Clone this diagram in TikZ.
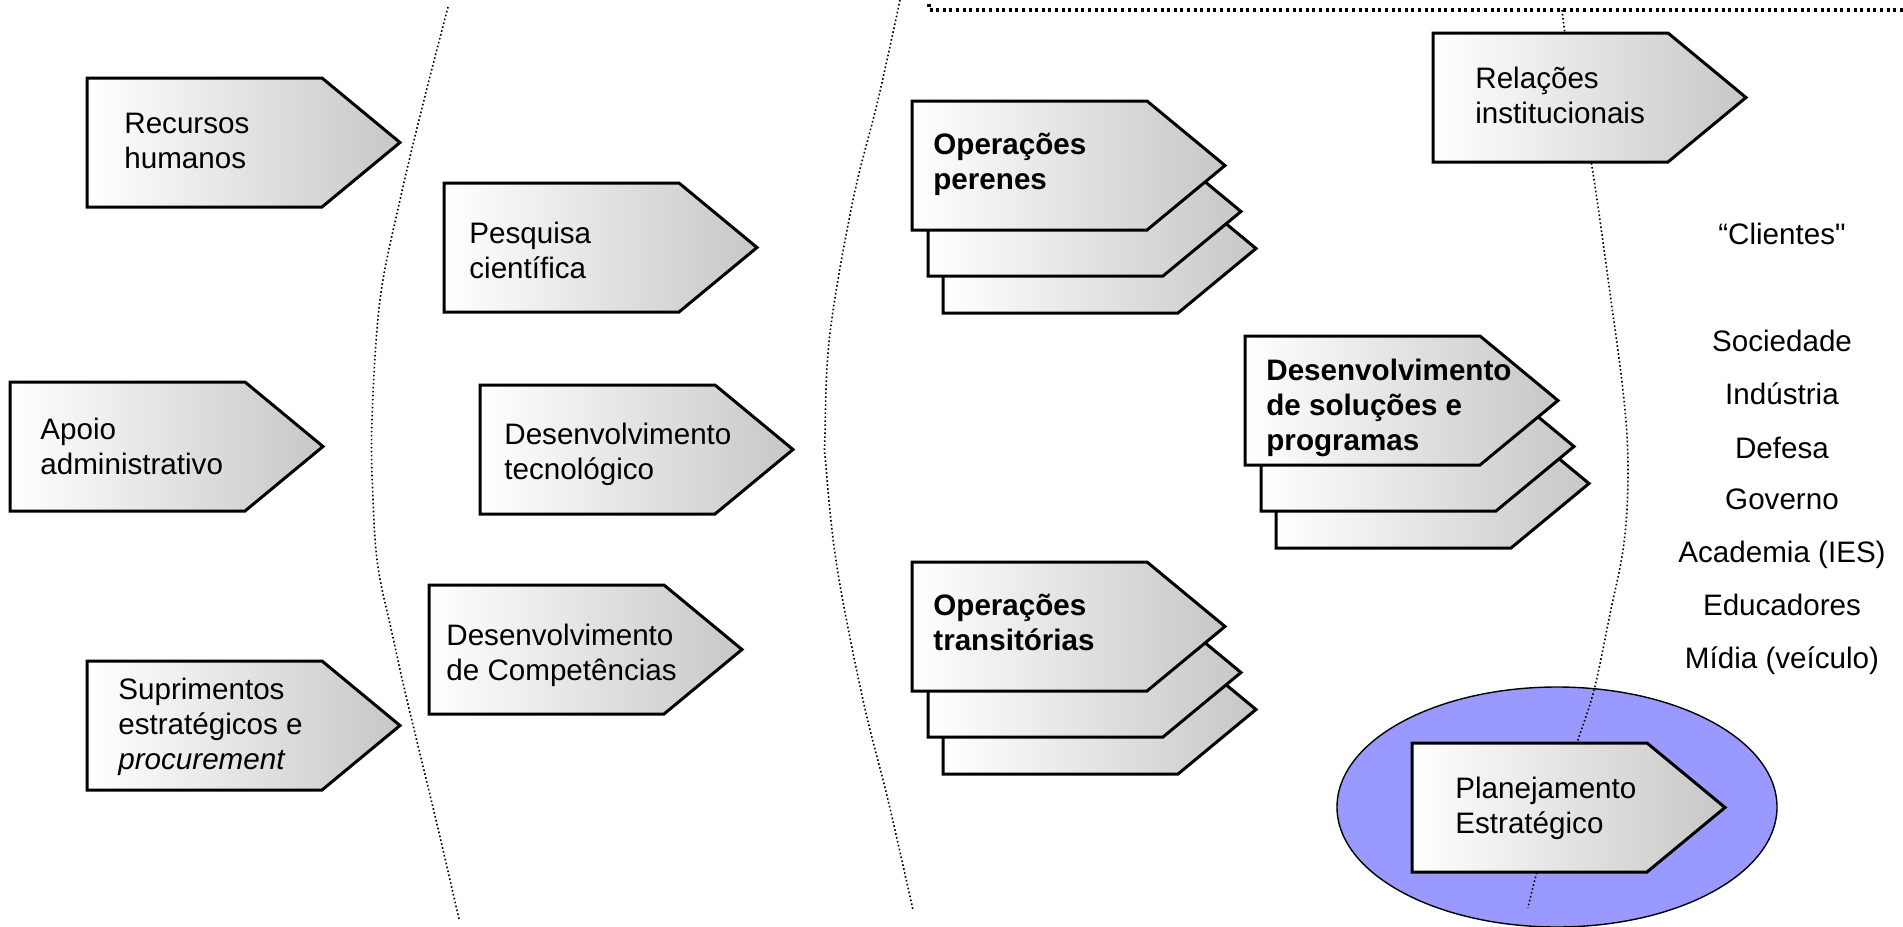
\documentclass[tikz,border=0pt]{standalone}
\usepackage{fontspec}
\setmainfont{Liberation Sans}
% same face without TeX ligature mapping, for a straight double quote
\newfontfamily\rawsans{Liberation Sans}
% strut that fixes the height of the first text line in a box
\newcommand\firstline{\rule{0pt}{16pt}}
\begin{document}
\begin{tikzpicture}[x=0.5pt, y=-0.5pt,
  chevshape/.style={draw=black, line width=1.5pt, line join=miter,
                    left color=white, right color=black!22},
  boxtext/.style={anchor=north west, inner sep=0pt, align=left,
                  font=\fontsize{14.8}{17.4}\selectfont},
  boldtext/.style={boxtext, font=\fontsize{14.8}{17.4}\selectfont\bfseries},
  client/.style={anchor=base, inner sep=0pt, font=\fontsize{14.8}{17.4}\selectfont},
  sepline/.style={line width=0.8pt, dash pattern=on 0.8pt off 1.2pt},
  topline/.style={line width=1.7pt, dash pattern=on 1.5pt off 1.8pt},
  pics/chevron/.style={code={
    \path[chevshape] (0,0) -- (235,0) -- (313,64.5) -- (235,129) -- (0,129) -- cycle;}},
  pics/chevstack/.style={code={
    \pic at (31,83) {chevron};
    \pic at (16,46) {chevron};
    \pic at (0,0) {chevron};}}
]
\useasboundingbox (0,0) rectangle (1903,927);

% focus area around strategic planning
\path[draw=black, line width=0.7pt, fill={rgb,255:red,153;green,153;blue,255}]
  (1557,807) ellipse [x radius=110pt, y radius=60pt];

% dotted separators
\draw[sepline] plot[smooth, tension=0.6] coordinates {
  (448,7) (424,100) (400,200) (380,300) (372,420) (373,500) (378,567)
  (392,633) (407,700) (436,820) (459,919)};
\draw[sepline] plot[smooth, tension=0.6] coordinates {
  (900,0) (878,100) (853,200) (830,333) (825,433) (826,467) (837,567)
  (863,700) (888,800) (913,910)};
\draw[sepline] plot[smooth, tension=0.6] coordinates {
  (1562,10) (1566,40) (1577,100) (1591,161) (1610,293) (1624,400) (1628,471)
  (1624,543) (1610,614) (1594,690) (1577,743) (1557,808) (1537,872) (1528,908)};
\draw[topline] (929,4) -- (929,10) -- (1903,10);

% support processes
\pic (rh) at (87,78)   {chevron};
\pic (pc) at (444,183) {chevron};
\pic (ap) at (10,382)  {chevron};
\pic (dt) at (480,385) {chevron};
\pic (dc) at (429,585) {chevron};
\pic (sp) at (87,661)  {chevron};

% core operations
\pic (op) at (912,101)  {chevstack};
\pic (ds) at (1245,336) {chevstack};
\pic (ot) at (912,562)  {chevstack};

% external relations and planning
\pic (ri) at (1433,33)  {chevron};
\pic (pe) at (1412,743) {chevron};

% box labels
\node[boxtext] (trh) at (124,101) {\firstline Recursos\\humanos};
\node[boxtext] (tpc) at (469,211) {\firstline Pesquisa\\científica};
\node[boxtext] (tap) at (40,407)  {\firstline Apoio\\administrativo};
\node[boxtext] (tdt) at (504,412) {\firstline Desenvolvimento\\tecnológico};
\node[boxtext] (tdc) at (446,613) {\firstline Desenvolvimento\\de Competências};
\node[boxtext] (tsp) at (118,667) {\firstline Suprimentos\\estratégicos e\\\textit{procurement}};
\node[boldtext] (top) at (933,122)  {\firstline Operações\\perenes};
\node[boldtext] (tds) at (1266,348) {\firstline Desenvolvimento\\de soluções e\\programas};
\node[boldtext] (tot) at (933,583)  {\firstline Operações\\transitórias};
\node[boxtext] (tri) at (1475,56)  {\firstline Relações\\institucionais};
\node[boxtext] (tpe) at (1455,766) {\firstline Planejamento\\Estratégico};

% client list
\node[client] (cl)  at (1782,244) {“Clientes{\rawsans "}};
\node[client] (cl1) at (1782,351) {Sociedade};
\node[client] (cl2) at (1782,404) {Indústria};
\node[client] (cl3) at (1782,458) {Defesa};
\node[client] (cl4) at (1782,509) {Governo};
\node[client] (cl5) at (1782,562) {Academia (IES)};
\node[client] (cl6) at (1782,615) {Educadores};
\node[client] (cl7) at (1782,668) {Mídia (veículo)};
\end{tikzpicture}
\end{document}
